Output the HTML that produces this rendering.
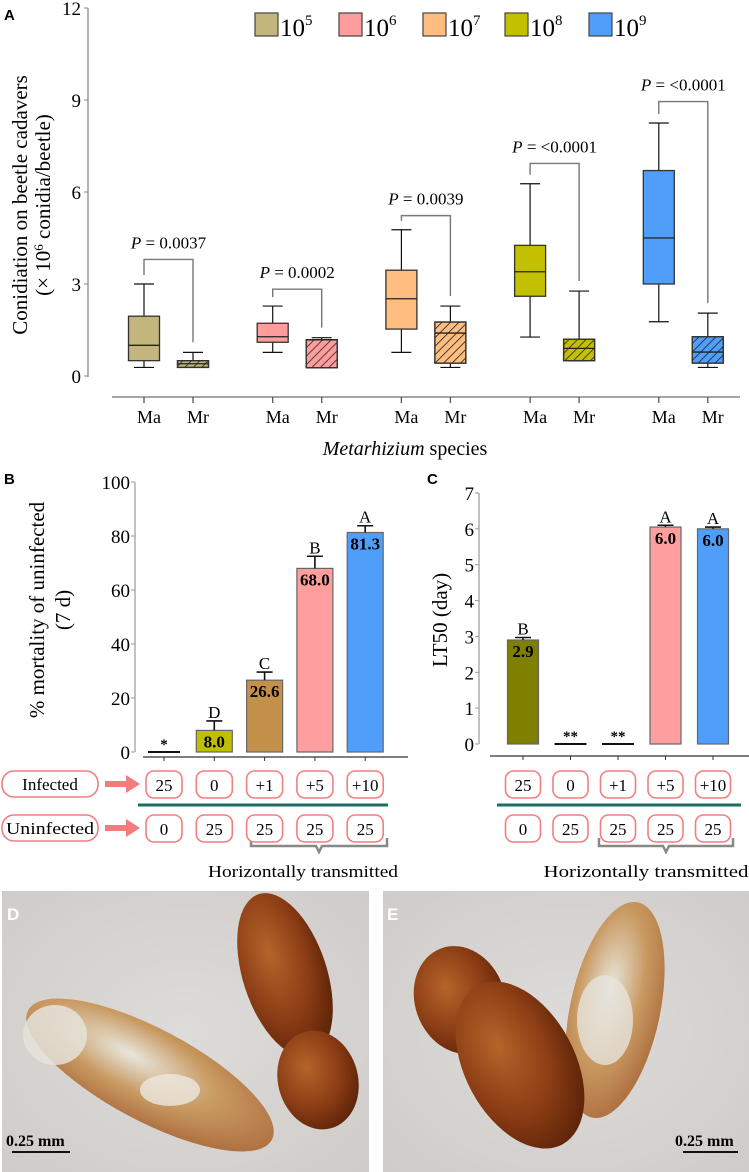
<!DOCTYPE html>
<html><head><meta charset="utf-8">
<style>
html,body{margin:0;padding:0;background:#fff;}
svg{display:block;font-family:"Liberation Serif",serif;}
.lbl{font-family:"Liberation Sans",sans-serif;font-weight:bold;}
</style></head>
<body>
<svg id="fig" width="749" height="1172" viewBox="0 0 749 1172" xmlns="http://www.w3.org/2000/svg">
<defs>
<pattern id="hatch" patternUnits="userSpaceOnUse" width="6" height="6" patternTransform="rotate(45)">
<line x1="0" y1="0" x2="0" y2="6" stroke="#222" stroke-width="1.6"/>
</pattern>
<radialGradient id="bg" cx="50%" cy="50%" r="70%"><stop offset="0" stop-color="#dedcda"/><stop offset="1" stop-color="#cfccc9"/></radialGradient>
<radialGradient id="brown" cx="40%" cy="35%" r="70%"><stop offset="0" stop-color="#b5642a"/><stop offset="0.6" stop-color="#8a3c14"/><stop offset="1" stop-color="#5a2208"/></radialGradient>
<radialGradient id="moldy" cx="40%" cy="40%" r="70%"><stop offset="0" stop-color="#e8e6dc"/><stop offset="0.5" stop-color="#c99a62"/><stop offset="1" stop-color="#a9683a"/></radialGradient>
</defs>

<!-- PANEL A -->
<g id="panelA">
<text x="4" y="20" class="lbl" font-size="15">A</text>
<g id="aLegend"></g>
<line x1="88" y1="8" x2="88" y2="377" stroke="#888" stroke-width="1.3"/>
<g id="aYTicks"></g>
<text transform="translate(27,205) rotate(-90)" text-anchor="middle" font-size="21">Conidiation on beetle cadavers</text>
<text transform="translate(50,205) rotate(-90)" text-anchor="middle" font-size="21">(× 10<tspan dy="-7" font-size="13">6</tspan><tspan dy="7"> conidia/beetle)</tspan></text>
<line x1="112" y1="397" x2="740" y2="397" stroke="#888" stroke-width="1.5"/>
<g id="aBoxes"></g>
<text x="405" y="455" text-anchor="middle" font-size="20"><tspan font-style="italic">Metarhizium</tspan> species</text>
</g>

<!-- PANEL B -->
<g id="panelB">
<text x="4" y="484" class="lbl" font-size="15">B</text>
<text transform="translate(44,610) rotate(-90)" text-anchor="middle" font-size="21">% mortality of uninfected</text>
<text transform="translate(70,610) rotate(-90)" text-anchor="middle" font-size="21">(7 d)</text>
<line x1="135" y1="482" x2="135" y2="752" stroke="#999" stroke-width="1.2"/>
<line x1="143" y1="757" x2="408" y2="757" stroke="#333" stroke-width="1.2"/>
<g id="bTicks"></g>
<g id="bBars"></g>
</g>

<!-- PANEL C -->
<g id="panelC">
<text x="427" y="484" class="lbl" font-size="15">C</text>
<text transform="translate(447,620) rotate(-90)" text-anchor="middle" font-size="21">LT50 (day)</text>
<line x1="479" y1="493" x2="479" y2="744" stroke="#999" stroke-width="1.2"/>
<line x1="490" y1="756" x2="749" y2="756" stroke="#333" stroke-width="1.2"/>
<g id="cTicks"></g>
<g id="cBars"></g>
</g>

<!-- Treatment rows -->
<g id="rows">
<rect x="2" y="771" width="96" height="26" rx="12" fill="#fff" stroke="#f27f7f" stroke-width="1.6"/>
<text x="50" y="790" text-anchor="middle" font-size="17">Infected</text>
<rect x="2" y="815" width="96" height="26" rx="12" fill="#fff" stroke="#f27f7f" stroke-width="1.6"/>
<text x="50" y="834" text-anchor="middle" font-size="17" textLength="88" lengthAdjust="spacingAndGlyphs">Uninfected</text>
<path d="M105,781 L126,781 L126,775 L140,784 L126,793 L126,787 L105,787 Z" fill="#f47b7b"/>
<path d="M105,825 L126,825 L126,819 L140,828 L126,837 L126,831 L105,831 Z" fill="#f47b7b"/>
<line x1="138" y1="805" x2="388" y2="805" stroke="#1f6b66" stroke-width="3"/>
<line x1="497" y1="805" x2="741" y2="805" stroke="#1f6b66" stroke-width="3"/>
<path d="M251,838 L251,846 L316,846 L319,852 L322,846 L387,846 L387,838" fill="none" stroke="#888" stroke-width="2.5"/>
<text x="303" y="877" text-anchor="middle" font-size="17" textLength="190" lengthAdjust="spacingAndGlyphs">Horizontally transmitted</text>
<path d="M599,838 L599,846 L663,846 L666,852 L669,846 L733,846 L733,838" fill="none" stroke="#888" stroke-width="2.5"/>
<text x="646" y="877" text-anchor="middle" font-size="17" textLength="205" lengthAdjust="spacingAndGlyphs">Horizontally transmitted</text>
<g id="cells"></g>
</g>

<!-- PHOTO D -->
<g>
<rect x="2" y="891" width="367" height="281" fill="url(#bg)"/>
<ellipse cx="150" cy="1075" rx="138" ry="46" transform="rotate(28 150 1075)" fill="url(#moldy)"/>
<ellipse cx="55" cy="1035" rx="32" ry="30" fill="#e5e3dc" opacity="0.85"/>
<ellipse cx="170" cy="1090" rx="30" ry="16" fill="#ece9e0" opacity="0.8"/>
<ellipse cx="285" cy="975" rx="42" ry="85" transform="rotate(-18 285 975)" fill="url(#brown)"/>
<ellipse cx="318" cy="1080" rx="40" ry="50" transform="rotate(-15 318 1080)" fill="url(#brown)"/>
<text x="7" y="920" class="lbl" font-size="17" fill="#fff">D</text>
<text x="6" y="1146" font-size="16" font-weight="bold">0.25 mm</text>
<line x1="12" y1="1152" x2="70" y2="1152" stroke="#111" stroke-width="2"/>
</g>

<!-- PHOTO E -->
<g>
<rect x="383" y="891" width="366" height="281" fill="url(#bg)"/>
<ellipse cx="615" cy="1010" rx="45" ry="110" transform="rotate(12 615 1010)" fill="url(#moldy)"/>
<ellipse cx="605" cy="1020" rx="28" ry="45" fill="#e6e4dc" opacity="0.8"/>
<ellipse cx="460" cy="1000" rx="45" ry="55" transform="rotate(-20 460 1000)" fill="url(#brown)"/>
<ellipse cx="520" cy="1065" rx="55" ry="90" transform="rotate(-28 520 1065)" fill="url(#brown)"/>
<text x="387" y="920" class="lbl" font-size="17" fill="#fff">E</text>
<text x="675" y="1146" font-size="16" font-weight="bold">0.25 mm</text>
<line x1="683" y1="1152" x2="738" y2="1152" stroke="#111" stroke-width="2"/>
</g>
</svg>

<script>
const NS='http://www.w3.org/2000/svg';
function mk(tag,attrs,parent,txt){const e=document.createElementNS(NS,tag);for(const k in attrs)e.setAttribute(k,attrs[k]);if(txt!==undefined)e.textContent=txt;parent.appendChild(e);return e;}

// ---- Panel A data ----
const aTicks=[0,3,6,9,12];
const aLegendLabels=['5','6','7','8','9'];
const aColors=['#c2b67c','#ff9c9c','#ffbd80','#c2c000','#4f9ffa'];
const aGroupsP=['0.0037','0.0002','0.0039','<0.0001','<0.0001'];
const aMaMin=[0.28,0.77,0.77,1.27,1.77];
const aMaQ1=[0.5,1.1,1.53,2.6,3.0];
const aMaMed=[1.0,1.28,2.52,3.4,4.5];
const aMaQ3=[1.95,1.72,3.45,4.26,6.7];
const aMaMax=[3.0,2.28,4.77,6.27,8.25];
const aMrMin=[0.28,0.27,0.28,0.5,0.28];
const aMrQ1=[0.28,0.27,0.42,0.5,0.42];
const aMrMed=[0.4,1.18,1.4,0.9,0.78];
const aMrQ3=[0.5,1.18,1.76,1.2,1.28];
const aMrMax=[0.77,1.25,2.28,2.77,2.05];
const aBracket=[3.8,2.83,5.23,6.93,8.95];

const ay=v=>376-v*(368/12);
const ax=(g,s)=>144+g*128.7+s*49;

const yt=document.getElementById('aYTicks');
aTicks.forEach(t=>{
  const l=mk('line',{x1:84,x2:88,y1:ay(t),y2:ay(t),stroke:'#888'},yt);
  
  
  const tx=mk('text',{x:81,y:ay(t)+7,'text-anchor':'end','font-size':19},yt,String(t));
  
  
});

const lg=document.getElementById('aLegend');
const lgX=[255,339,423,505,589];
aLegendLabels.forEach((e,i)=>{
  const r=mk('rect',{x:lgX[i],y:13,width:23,height:23,fill:aColors[i],stroke:'#444','stroke-width':1.2},lg);
  
  
  const t=mk('text',{x:lgX[i]+25,y:36,'font-size':25},lg);
  
  
  t.appendChild(document.createTextNode('10'));
  mk('tspan',{dy:-11,'font-size':15},t,e);
});

const bx=document.getElementById('aBoxes');
function drawBox(cx,mn,q1,md,q3,mxv,col,hatched,name){
  const w=31;
  const g=mk('g',{},bx);
  
  
  mk('line',{x1:cx,x2:cx,y1:ay(mxv),y2:ay(q3),stroke:'#111','stroke-width':1.2},g);
  mk('line',{x1:cx,x2:cx,y1:ay(q1),y2:ay(mn),stroke:'#111','stroke-width':1.2},g);
  mk('line',{x1:cx-10,x2:cx+10,y1:ay(mxv),y2:ay(mxv),stroke:'#111','stroke-width':1.2},g);
  mk('line',{x1:cx-10,x2:cx+10,y1:ay(mn),y2:ay(mn),stroke:'#111','stroke-width':1.2},g);
  mk('rect',{x:cx-w/2,y:ay(q3),width:w,height:Math.max(1,ay(q1)-ay(q3)),fill:col,stroke:'#333','stroke-width':1.3},g);
  if(hatched) mk('rect',{x:cx-w/2,y:ay(q3),width:w,height:Math.max(1,ay(q1)-ay(q3)),fill:'url(#hatch)',stroke:'#333','stroke-width':1.3},g);
  mk('line',{x1:cx-w/2,x2:cx+w/2,y1:ay(md),y2:ay(md),stroke:'#222','stroke-width':1.3},g);
}
aColors.forEach((c,i)=>{
  const xa=ax(i,0),xr=ax(i,1);
  drawBox(xa,aMaMin[i],aMaQ1[i],aMaMed[i],aMaQ3[i],aMaMax[i],c,false,'box-ma-'+(i+5));
  drawBox(xr,aMrMin[i],aMrQ1[i],aMrMed[i],aMrQ3[i],aMrMax[i],c,true,'box-mr-'+(i+5));
  const by=ay(aBracket[i]);
  const br=mk('path',{d:`M${xa},${ay(aMaMax[i])-9} L${xa},${by} L${xr},${by} L${xr},${ay(aMrMax[i])-10}`,fill:'none',stroke:'#777','stroke-width':1.4},bx);
  
  
  const pt=mk('text',{x:(xa+xr)/2,y:by-11,'text-anchor':'middle','font-size':17},bx);
  
  
  mk('tspan',{'font-style':'italic'},pt,'P');
  mk('tspan',{},pt,' = '+aGroupsP[i]);
  [[xa,'Ma'],[xr,'Mr']].forEach(([x,s])=>{
    const tk=mk('line',{x1:x,x2:x,y1:397,y2:403,stroke:'#555','stroke-width':1.3},bx);
    
    
    const tl=mk('text',{x:x+5,y:423,'text-anchor':'middle','font-size':18},bx,s);
    
    
  });
});

// ---- Panel B data ----
const bTicks=[0,20,40,60,80,100];
const bValues=[0,8.0,26.6,68.0,81.3];
const bErr=[0,3.5,3,4.5,2.5];
const bLetters=['*','D','C','B','A'];
const bLabels=['','8.0','26.6','68.0','81.3'];
const bColors=['#000','#bfbf00','#c4914a','#ff9e9e','#4f9ffa'];
const byS=v=>752-v*2.7;
const bxS=i=>164+i*50.3;

// ---- Panel C data ----
const cTicks=[0,1,2,3,4,5,6,7];
const cValues=[2.9,0,0,6.05,6.0];
const cErr=[0.07,0,0,0.05,0.05];
const cLetters=['B','**','**','A','A'];
const cLabels=['2.9','','','6.0','6.0'];
const cColors=['#808000','#000','#000','#ff9e9e','#4f9ffa'];
const cyS=v=>744-v*35.86;
const cxS=i=>523+i*47.5;

function drawBars(gid,tid,axX,ticks,vals,errs,letters,labels,cols,yS,xS,w,pref){
  const tg=document.getElementById(tid);
  ticks.forEach(t=>{
    const l=mk('line',{x1:axX-4,x2:axX,y1:yS(t),y2:yS(t),stroke:'#999'},tg);
    
    
    const tx=mk('text',{x:axX-5,y:yS(t)+7,'text-anchor':'end','font-size':19},tg,String(t));
    
    
  });
  const g=document.getElementById(gid);
  vals.forEach((v,i)=>{
    const x=xS(i);
    const bt=yS(v),b0=yS(0);
    if(v>0){
      const r=mk('rect',{x:x-w/2,y:bt,width:w,height:b0-bt,fill:cols[i],stroke:'#666','stroke-width':1.2},g);
      
      
      const et=yS(v+errs[i]);
      const e=mk('path',{d:`M${x},${bt} L${x},${et} M${x-8},${et} L${x+8},${et}`,stroke:'#111','stroke-width':1.6,fill:'none'},g);
      
      
      const vl=mk('text',{x:x,y:bt+17,'text-anchor':'middle','font-size':17,'font-weight':'bold'},g,labels[i]);
      
      
      const lt=mk('text',{x:x,y:et-3,'text-anchor':'middle','font-size':17},g,letters[i]);
      
      
    } else {
      const z=mk('line',{x1:x-16,x2:x+16,y1:b0,y2:b0,stroke:'#111','stroke-width':2},g);
      
      
      const lt=mk('text',{x:x,y:b0-3,'text-anchor':'middle','font-size':15,'font-weight':'bold'},g,letters[i]);
      
      
    }
    const tk=mk('line',{x1:x,x2:x,y1:pref==='b'?757:756,y2:pref==='b'?761:760,stroke:'#333'},g);
    
    
  });
}
drawBars('bBars','bTicks',135,bTicks,bValues,bErr,bLetters,bLabels,bColors,byS,bxS,36,'b');
drawBars('cBars','cTicks',479,cTicks,cValues,cErr,cLetters,cLabels,cColors,cyS,cxS,31,'c');

// ---- treatment cells ----
const infected=['25','0','+1','+5','+10'];
const uninfected=['0','25','25','25','25'];
const cells=document.getElementById('cells');
[[bxS,36],[cxS,35]].forEach(([xs,w])=>{
  infected.forEach((s,i)=>{
    [[s,771,'infected-cell'],[uninfected[i],815,'uninfected-cell']].forEach(([t,y,n])=>{
      const r=mk('rect',{x:xs(i)-w/2,y:y,width:w,height:27,rx:8,fill:'#fff',stroke:'#f27f7f','stroke-width':1.6},cells);
      
      
      const tx=mk('text',{x:xs(i),y:y+20,'text-anchor':'middle','font-size':17},cells,t);
      
      
    });
  });
});
</script>
</body></html>
